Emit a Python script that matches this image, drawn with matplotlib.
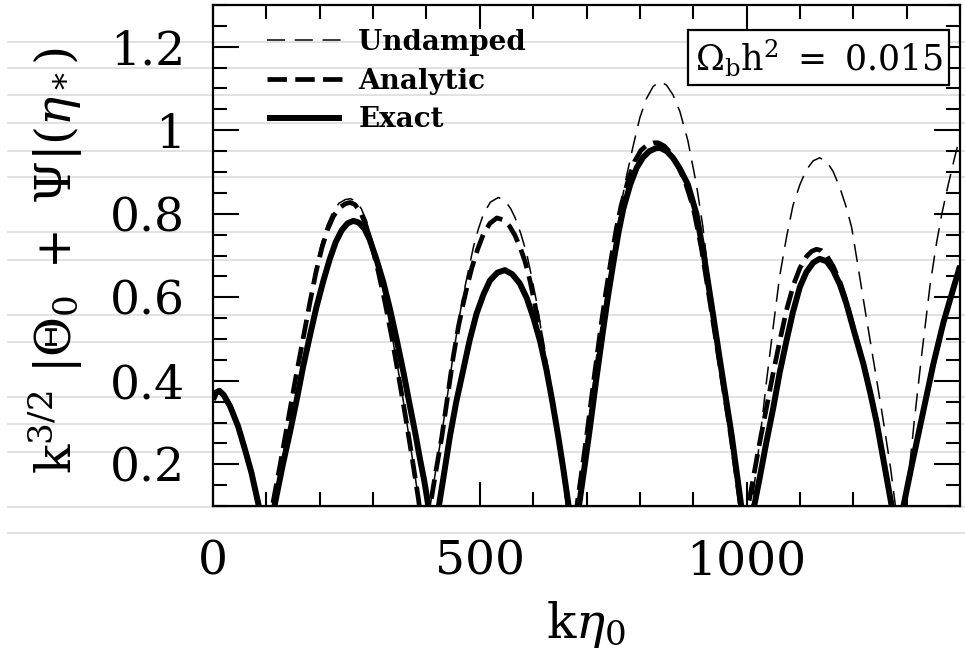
import matplotlib
matplotlib.use('Agg')
import matplotlib.pyplot as plt
from matplotlib.lines import Line2D
from matplotlib.ticker import MultipleLocator, FixedLocator

# Values: k*eta_0 and k^{3/2}|Theta_0 + Psi|(eta_*)
exact_k = [0, 6, 12, 20, 32, 47, 60, 72, 85, 102,
           116, 131, 144, 157, 169, 182, 194, 207, 219, 230, 241, 252, 263,
           273, 284, 294, 306, 319, 332, 344, 357, 369, 379, 388, 396, 403, 411,
           424, 434, 444, 456, 469, 481, 494, 507, 519, 533, 547, 561, 575,
           588, 600, 613, 625, 636, 647, 657, 666, 675,
           687, 697, 706, 718, 731, 740, 750, 760, 769, 782, 794, 806, 818,
           830, 838, 850, 862, 875, 890, 906, 920, 937, 950, 961, 972, 981,
           990, 1000,
           1012, 1025, 1037, 1050, 1062, 1075, 1087, 1100, 1112, 1125, 1137,
           1150, 1162, 1175, 1187, 1200, 1219, 1232, 1244, 1258, 1272, 1284,
           1294, 1310, 1330, 1350, 1369, 1385, 1400]
exact_val = [0.355, 0.372, 0.376, 0.366, 0.339, 0.291, 0.235, 0.180, 0.105, 0.0,
             0.105, 0.200, 0.275, 0.355, 0.434, 0.510, 0.577, 0.640, 0.692, 0.732, 0.760, 0.777, 0.783,
             0.779, 0.764, 0.737, 0.692, 0.637, 0.570, 0.500, 0.420, 0.340, 0.275, 0.212, 0.160, 0.105, 0.0,
             0.105, 0.185, 0.267, 0.350, 0.426, 0.497, 0.561, 0.607, 0.640, 0.659, 0.665, 0.655, 0.633,
             0.598, 0.553, 0.495, 0.426, 0.350, 0.267, 0.185, 0.105, 0.0,
             0.110, 0.200, 0.283, 0.400, 0.520, 0.600, 0.680, 0.755, 0.812, 0.870, 0.910, 0.935, 0.950,
             0.957, 0.958, 0.950, 0.934, 0.908, 0.870, 0.800, 0.700, 0.560, 0.450, 0.360, 0.270, 0.185,
             0.100, 0.0,
             0.085, 0.170, 0.252, 0.335, 0.419, 0.497, 0.565, 0.625, 0.660, 0.683, 0.692,
             0.686, 0.665, 0.630, 0.585, 0.525, 0.440, 0.370, 0.299, 0.200, 0.100, 0.0,
             0.100, 0.200, 0.320, 0.440, 0.540, 0.610, 0.675]

analytic_k = [0, 6, 12, 20, 32, 47, 60, 72, 85, 100,
              112, 126, 140, 154, 168, 182, 193, 204, 215, 226, 238, 248, 257,
              266, 276, 286, 297, 310, 322, 335, 348, 360, 372, 385, 397,
              407, 418, 429, 440, 450, 460, 469, 477, 485, 496, 507, 519, 532,
              545, 556, 566, 576, 585, 594, 603, 614, 625, 636, 647, 657, 665, 673,
              683, 693, 702, 714, 727, 736, 746, 756, 765, 778, 790, 802, 814,
              826, 834, 846, 858, 870, 885, 900, 915, 930, 946, 957, 968, 978,
              987, 996,
              1001, 1013, 1025, 1038, 1050, 1063, 1075, 1088, 1100, 1112, 1122,
              1131, 1140, 1150, 1162, 1175, 1187, 1200, 1219, 1232, 1244, 1258,
              1272, 1284, 1294, 1310, 1330, 1350, 1369, 1385, 1400]
analytic_val = [0.355, 0.372, 0.376, 0.366, 0.339, 0.291, 0.235, 0.180, 0.105, 0.0,
                0.105, 0.200, 0.300, 0.400, 0.495, 0.590, 0.660, 0.718, 0.763, 0.795, 0.815, 0.824, 0.827,
                0.822, 0.805, 0.775, 0.728, 0.660, 0.590, 0.505, 0.410, 0.320, 0.225, 0.117, 0.0,
                0.100, 0.185, 0.267, 0.365, 0.455, 0.530, 0.585, 0.630, 0.670, 0.715, 0.752, 0.777, 0.790,
                0.785, 0.770, 0.748, 0.718, 0.685, 0.640, 0.585, 0.510, 0.430, 0.350, 0.267, 0.185, 0.105, 0.0,
                0.110, 0.200, 0.285, 0.405, 0.530, 0.610, 0.690, 0.765, 0.820, 0.880, 0.925, 0.952, 0.965,
                0.970, 0.970, 0.962, 0.945, 0.918, 0.876, 0.815, 0.720, 0.600, 0.470, 0.380, 0.290, 0.200,
                0.115, 0.0,
                0.085, 0.170, 0.255, 0.340, 0.420, 0.500, 0.570, 0.630, 0.670, 0.697, 0.710,
                0.715, 0.712, 0.700, 0.675, 0.637, 0.590, 0.528, 0.441, 0.370, 0.299, 0.200,
                0.100, 0.0, 0.100, 0.200, 0.320, 0.440, 0.540, 0.610, 0.675]

undamped_k = [0, 6, 12, 20, 32, 47, 60, 72, 85, 100,
              111, 125, 139, 153, 167, 181, 192, 203, 214, 225, 236, 248, 258,
              268, 278, 288, 298, 310, 322, 335, 348, 360, 372, 385, 396,
              407, 418, 429, 440, 450, 460, 469, 478, 488, 497, 507, 520, 535,
              548, 558, 566, 577, 588, 597, 607, 619, 632, 645, 658, 668, 677,
              687, 697, 706, 718, 728, 738, 748, 757, 766, 775, 787, 800, 812,
              825, 838, 850, 862, 875, 890, 906, 918, 928, 940, 952, 965, 978,
              990, 1000,
              1012, 1025, 1037, 1050, 1062, 1075, 1087, 1100, 1112, 1125, 1137,
              1150, 1162, 1175, 1187, 1197, 1210, 1222, 1234, 1246, 1258, 1270,
              1278, 1287,
              1300, 1314, 1328, 1344, 1356, 1366, 1378, 1390, 1400]
undamped_val = [0.355, 0.372, 0.376, 0.366, 0.339, 0.291, 0.235, 0.180, 0.105, 0.0,
                0.106, 0.200, 0.300, 0.402, 0.500, 0.595, 0.667, 0.727, 0.773, 0.805, 0.825, 0.834, 0.836,
                0.830, 0.812, 0.782, 0.738, 0.670, 0.598, 0.512, 0.418, 0.326, 0.228, 0.118, 0.0,
                0.100, 0.190, 0.275, 0.370, 0.460, 0.540, 0.605, 0.660, 0.720, 0.762, 0.800, 0.828, 0.839,
                0.830, 0.812, 0.791, 0.752, 0.704, 0.650, 0.585, 0.490, 0.380, 0.270, 0.160, 0.080, 0.0,
                0.115, 0.225, 0.320, 0.450, 0.535, 0.610, 0.690, 0.760, 0.830, 0.890, 0.960, 1.030, 1.075,
                1.105, 1.117, 1.108, 1.085, 1.045, 0.975, 0.870, 0.770, 0.660, 0.550, 0.440, 0.320, 0.210,
                0.100, 0.0,
                0.125, 0.260, 0.395, 0.530, 0.650, 0.745, 0.820, 0.870, 0.905, 0.927, 0.934,
                0.925, 0.902, 0.862, 0.815, 0.767, 0.665, 0.570, 0.478, 0.385, 0.290, 0.190,
                0.110, 0.0,
                0.125, 0.300, 0.460, 0.630, 0.730, 0.800, 0.870, 0.935, 0.985]

y_major = [0.2, 0.4, 0.6, 0.8, 1.0, 1.2]
y_major_labels = ['0.2', '0.4', '0.6', '0.8', '1', '1.2']
x_major = [0, 500, 1000]

plt.rcParams['font.family'] = 'DejaVu Serif'
plt.rcParams['mathtext.fontset'] = 'dejavuserif'
plt.rcParams['lines.scale_dashes'] = False

W, H = 965, 657
fig = plt.figure(figsize=(W / 100, H / 100), dpi=100)
ax = fig.add_axes([213 / W, 1 - 506 / H, (960 - 213) / W, (506 - 5) / H])
ax.set_facecolor('none')

# faint horizontal streaks from the scanned page
for yy in [42, 68, 95, 123, 151, 177, 232, 260, 315, 342, 397, 424, 452, 507, 533]:
    fig.add_artist(Line2D([8 / W, 1], [1 - yy / H] * 2, transform=fig.transFigure,
                          color='#dcdcdc', lw=1.2, zorder=-1))

ax.plot(exact_k, exact_val, color='black', lw=4.3, solid_capstyle='butt',
        label='Exact', zorder=3)
ax.plot(analytic_k, analytic_val, color='black', lw=3.4, dashes=(14, 6),
        label='Analytic', zorder=4)
ax.plot(undamped_k, undamped_val, color='black', lw=1.1, dashes=(13, 7),
        label='Undamped', zorder=5)

ax.set_xlim(0, 1400)
ax.set_ylim(0.1, 1.3)

ax.xaxis.set_major_locator(FixedLocator(x_major))
ax.xaxis.set_minor_locator(MultipleLocator(100))
ax.yaxis.set_major_locator(FixedLocator(y_major))
ax.set_yticklabels(y_major_labels)
ax.yaxis.set_minor_locator(MultipleLocator(0.05))

ax.tick_params(which='both', direction='in', top=True, right=True, width=1.5,
               labelsize=34)
ax.tick_params(axis='x', which='major', length=17, pad=24)
ax.tick_params(axis='y', which='major', length=19, pad=20)
ax.tick_params(which='minor', length=10)
for s in ax.spines.values():
    s.set_linewidth(1.6)

ax.set_xlabel(r'$\mathrm{k}\eta_0$', fontsize=35)
ax.xaxis.set_label_coords(0.5, -0.185)
ax.set_ylabel(r'$\mathrm{k}^{3/2}\ |\Theta_0\ +\ \Psi|(\eta_*)$', fontsize=35)
ax.yaxis.set_label_coords(-0.172, 0.49)

# legend: Undamped, Analytic, Exact
handles, labels = ax.get_legend_handles_labels()
order = [2, 1, 0]
ax.legend([handles[i] for i in order], [labels[i] for i in order],
          loc='upper left', bbox_to_anchor=(0.072, 0.952), frameon=False,
          borderpad=0, borderaxespad=0, handlelength=2.7, handletextpad=0.6,
          labelspacing=0.42, prop={'family': 'DejaVu Serif', 'weight': 'bold', 'size': 20})

ax.text(0.8106, 0.895, r'$\Omega_{\rm b}\mathrm{h}^2\ =\ 0.015$', transform=ax.transAxes,
        ha='center', va='center', fontsize=25,
        bbox=dict(boxstyle='square,pad=0.2', facecolor='white', edgecolor='black', lw=1.6))

fig.savefig('out.png', dpi=100)
